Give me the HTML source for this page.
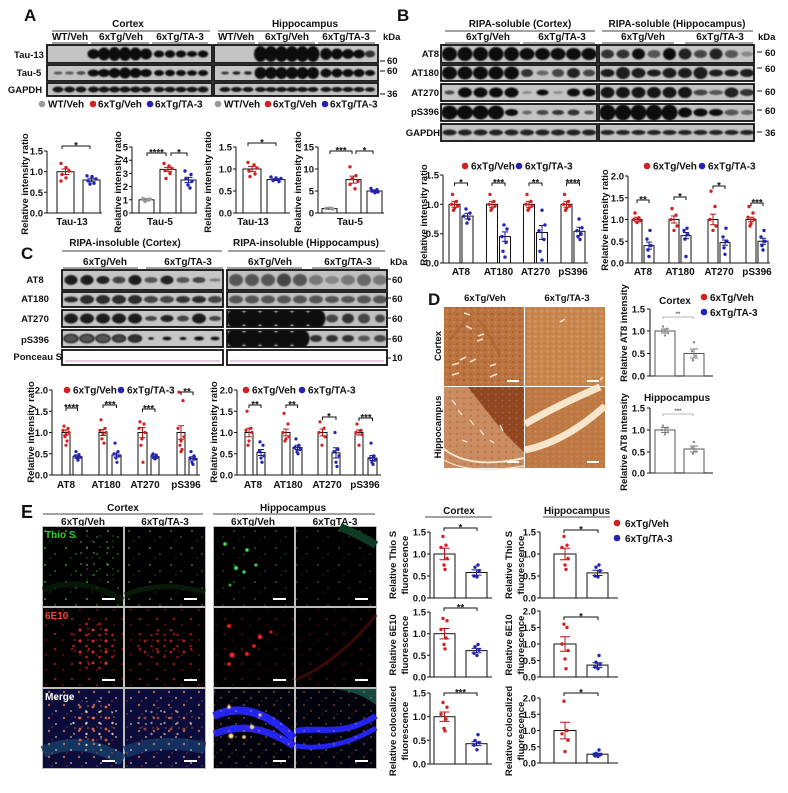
<!DOCTYPE html>
<html><head><meta charset="utf-8">
<style>
body{margin:0;background:#fff}
svg text{font-family:"Liberation Sans",Arial,sans-serif;font-weight:bold;font-size:9.5px;fill:#111}
.m{text-anchor:middle}.e{text-anchor:end}
.ax{fill:none;stroke:#111;stroke-width:1}
.ln{fill:none;stroke:#444;stroke-width:1}
.bar{fill:#fff;stroke:#111;stroke-width:1}
.r circle{fill:#d42020}.b circle{fill:#2424b4}.g circle{fill:#9a9a9a}
.er{stroke:#b01818;fill:none;stroke-width:1}
.eb{stroke:#1a1a8e;fill:none;stroke-width:1}
.eg{stroke:#777;fill:none;stroke-width:1}
.bl{stroke:#111;stroke-width:1.8;fill:none}
.h{font-size:10px}
.L{font-size:17px}
</style></head><body>
<svg width="788" height="788" viewBox="0 0 788 788" xmlns="http://www.w3.org/2000/svg">
<defs>
<filter id="bf" x="-30%" y="-60%" width="160%" height="220%"><feGaussianBlur stdDeviation="0.7"/></filter>
<filter id="gl" x="-50%" y="-50%" width="200%" height="200%"><feGaussianBlur stdDeviation="0.5"/></filter>
<pattern id="pg" width="21" height="17" patternUnits="userSpaceOnUse"><circle cx="3" cy="4" r="0.9" fill="#6d6"/><circle cx="13" cy="10" r="0.8" fill="#4c4"/><circle cx="8" cy="14" r="0.6" fill="#3a3"/></pattern>
<pattern id="pg2" width="13" height="11" patternUnits="userSpaceOnUse"><circle cx="3" cy="3" r="0.9" fill="#7e7"/><circle cx="9" cy="8" r="0.7" fill="#5c5"/></pattern>
<pattern id="pr" width="17" height="15" patternUnits="userSpaceOnUse"><circle cx="4" cy="4" r="1.3" fill="#e22"/><circle cx="12" cy="10" r="1" fill="#b11"/></pattern>
<pattern id="pr2" width="13" height="11" patternUnits="userSpaceOnUse"><circle cx="2" cy="3" r="1.5" fill="#f33"/><circle cx="8.5" cy="8" r="1.3" fill="#d22"/><circle cx="10" cy="2" r="0.9" fill="#c22"/></pattern>
<pattern id="pm" width="15" height="13" patternUnits="userSpaceOnUse"><circle cx="4" cy="3" r="1.2" fill="#f96"/><circle cx="11" cy="9" r="1" fill="#fdb"/><circle cx="7" cy="12" r="0.7" fill="#e53"/></pattern>
<pattern id="pm2" width="13" height="11" patternUnits="userSpaceOnUse"><circle cx="2" cy="3" r="1.4" fill="#f74"/><circle cx="8.5" cy="8" r="1.2" fill="#fec"/><circle cx="10" cy="2" r="0.9" fill="#e53"/></pattern>
<pattern id="pb1" width="7" height="6" patternUnits="userSpaceOnUse"><circle cx="2" cy="2" r="1.2" fill="#9c5527"/><circle cx="5.5" cy="4.5" r="1" fill="#d99a64"/></pattern>
<pattern id="pb2" width="6" height="5" patternUnits="userSpaceOnUse"><circle cx="1.5" cy="1.5" r="1" fill="#e0a978"/><circle cx="4.5" cy="3.5" r="0.9" fill="#b06a38"/></pattern>
</defs>
<rect width="788" height="788" fill="#fff"/>

<!-- ================= PANEL A ================= -->
<text class="L" x="24" y="21">A</text>
<text class="m h" x="128" y="27">Cortex</text>
<path class="ln" d="M52,31H210M218,31H376"/>
<text class="m h" x="305" y="27">Hippocampus</text>
<text class="m h" x="70" y="40">WT/Veh</text>
<text class="m h" x="121" y="40">6xTg/Veh</text>
<text class="m h" x="180" y="40">6xTg/TA-3</text>
<text class="m h" x="236" y="40">WT/Veh</text>
<text class="m h" x="287" y="40">6xTg/Veh</text>
<text class="m h" x="346" y="40">6xTg/TA-3</text>
<path class="ln" d="M52,43H88M91,43H149M152,43H208M217,43H255M258,43H315M318,43H375"/>
<text x="383" y="40">kDa</text>

<text class="m" x="29" y="58">Tau-13</text>
<text class="m" x="29" y="76">Tau-5</text>
<text class="m" x="25" y="93">GAPDH</text>

<svg x="47" y="45" width="165" height="18"><rect width="100%" height="100%" fill="#c4c4c4"/><g filter="url(#bf)" fill="#111">
<ellipse cx="46.5" cy="9" rx="6" ry="5"/><ellipse cx="57" cy="9" rx="6" ry="6.5"/><ellipse cx="67.5" cy="9" rx="6" ry="7"/><ellipse cx="78" cy="9" rx="6" ry="7"/><ellipse cx="88.5" cy="9" rx="6" ry="6.5"/><ellipse cx="99" cy="9" rx="6" ry="5.5"/>
<ellipse cx="112" cy="9" rx="5.2" ry="3.5"/><ellipse cx="123" cy="9" rx="5.2" ry="3.8"/><ellipse cx="134" cy="9" rx="5.2" ry="3.5"/><ellipse cx="145" cy="9" rx="5.2" ry="3"/><ellipse cx="156" cy="9" rx="5.2" ry="3.5"/></g></svg>
<rect class="bl" x="47" y="45" width="165" height="18"/>
<svg x="47" y="65" width="165" height="16"><rect width="100%" height="100%" fill="#c4c4c4"/><g filter="url(#bf)" fill="#111">
<ellipse cx="11" cy="8" rx="4.5" ry="1.5" fill="#555"/><ellipse cx="22.5" cy="8" rx="4.5" ry="1.5" fill="#555"/><ellipse cx="34" cy="8" rx="4.5" ry="1.7" fill="#444"/>
<ellipse cx="46.5" cy="8" rx="5.8" ry="3.5"/><ellipse cx="57" cy="8" rx="5.8" ry="4"/><ellipse cx="67.5" cy="8" rx="5.8" ry="5"/><ellipse cx="78" cy="8" rx="5.8" ry="5.5"/><ellipse cx="88.5" cy="8" rx="5.8" ry="5"/><ellipse cx="99" cy="8" rx="5.8" ry="4"/>
<ellipse cx="112" cy="8" rx="5" ry="3"/><ellipse cx="123" cy="8" rx="5" ry="3.2"/><ellipse cx="134" cy="8" rx="5" ry="3"/><ellipse cx="145" cy="8" rx="5" ry="2.8"/><ellipse cx="156" cy="8" rx="5" ry="3"/></g></svg>
<rect class="bl" x="47" y="65" width="165" height="16"/>
<svg x="47" y="83" width="165" height="13"><rect width="100%" height="100%" fill="#c4c4c4"/><g filter="url(#bf)" fill="#151515">
<ellipse cx="11" cy="6.5" rx="5.5" ry="3"/><ellipse cx="22.5" cy="6.5" rx="5.5" ry="3"/><ellipse cx="34" cy="6.5" rx="5.5" ry="3"/><ellipse cx="46.5" cy="6.5" rx="5.5" ry="3"/><ellipse cx="57" cy="6.5" rx="5.5" ry="3"/><ellipse cx="67.5" cy="6.5" rx="5.5" ry="3"/><ellipse cx="78" cy="6.5" rx="5.5" ry="3"/><ellipse cx="88.5" cy="6.5" rx="5.5" ry="3"/><ellipse cx="99" cy="6.5" rx="5.5" ry="3"/><ellipse cx="112" cy="6.5" rx="5.5" ry="2.8"/><ellipse cx="123" cy="6.5" rx="5.5" ry="2.8"/><ellipse cx="134" cy="6.5" rx="5.5" ry="2.8"/><ellipse cx="145" cy="6.5" rx="5.5" ry="2.8"/><ellipse cx="156" cy="6.5" rx="5.5" ry="3"/></g></svg>
<rect class="bl" x="47" y="83" width="165" height="13"/>

<svg x="214" y="45" width="164" height="18"><rect width="100%" height="100%" fill="#c4c4c4"/><g filter="url(#bf)" fill="#0e0e0e">
<ellipse cx="46.5" cy="9" rx="6.5" ry="8"/><ellipse cx="57" cy="9" rx="6.5" ry="8"/><ellipse cx="67.5" cy="9" rx="6.5" ry="8"/><ellipse cx="78" cy="9" rx="6.5" ry="8"/><ellipse cx="88.5" cy="9" rx="6.5" ry="8"/><ellipse cx="99" cy="9" rx="6.5" ry="8"/>
<ellipse cx="112" cy="9" rx="5.8" ry="6"/><ellipse cx="123" cy="9" rx="5.8" ry="5.5"/><ellipse cx="134" cy="9" rx="5.8" ry="5"/><ellipse cx="145" cy="9" rx="5.8" ry="4.5"/><ellipse cx="156" cy="9" rx="5" ry="3.5" fill="#333"/></g></svg>
<rect class="bl" x="214" y="45" width="164" height="18"/>
<svg x="214" y="65" width="164" height="16"><rect width="100%" height="100%" fill="#c4c4c4"/><g filter="url(#bf)" fill="#0e0e0e">
<ellipse cx="11" cy="8" rx="4" ry="1.5" fill="#333"/><ellipse cx="22.5" cy="8" rx="4" ry="1.7" fill="#222"/><ellipse cx="34" cy="8" rx="4" ry="1.7" fill="#222"/>
<ellipse cx="46.5" cy="8" rx="6" ry="6"/><ellipse cx="57" cy="8" rx="6" ry="6"/><ellipse cx="67.5" cy="8" rx="6" ry="6"/><ellipse cx="78" cy="8" rx="6" ry="6"/><ellipse cx="88.5" cy="8" rx="6" ry="6"/><ellipse cx="99" cy="8" rx="6" ry="6"/>
<ellipse cx="112" cy="8" rx="5.5" ry="4.5"/><ellipse cx="123" cy="8" rx="5.5" ry="4.5"/><ellipse cx="134" cy="8" rx="5.5" ry="4"/><ellipse cx="145" cy="8" rx="5.5" ry="4"/><ellipse cx="156" cy="8" rx="5" ry="3"/></g></svg>
<rect class="bl" x="214" y="65" width="164" height="16"/>
<svg x="214" y="83" width="164" height="13"><rect width="100%" height="100%" fill="#c4c4c4"/><g filter="url(#bf)" fill="#151515">
<ellipse cx="11" cy="6.5" rx="5.5" ry="2.5"/><ellipse cx="22.5" cy="6.5" rx="5.5" ry="2.5"/><ellipse cx="34" cy="6.5" rx="5.5" ry="2.5"/><ellipse cx="46.5" cy="6.5" rx="5.5" ry="2.5"/><ellipse cx="57" cy="6.5" rx="5.5" ry="2.5"/><ellipse cx="67.5" cy="6.5" rx="5.5" ry="2.5"/><ellipse cx="78" cy="6.5" rx="5.5" ry="2.5"/><ellipse cx="88.5" cy="6.5" rx="5.5" ry="2.5"/><ellipse cx="99" cy="6.5" rx="5.5" ry="2.5"/><ellipse cx="112" cy="6.5" rx="5.5" ry="2.5"/><ellipse cx="123" cy="6.5" rx="5.5" ry="2.5"/><ellipse cx="134" cy="6.5" rx="5.5" ry="2.5"/><ellipse cx="145" cy="6.5" rx="5.5" ry="2.5"/><ellipse cx="156" cy="6.5" rx="5" ry="2.3"/></g></svg>
<rect class="bl" x="214" y="83" width="164" height="13"/>
<path class="ax" d="M380,61h5M380,71h5M380,94h5"/>
<text x="387" y="64">60</text><text x="387" y="74">60</text><text x="387" y="97">36</text>

<g class="g"><circle cx="42" cy="104" r="3.3"/><circle cx="218" cy="104" r="3.3"/></g>
<g class="r"><circle cx="93" cy="104" r="3.3"/><circle cx="268" cy="104" r="3.3"/></g>
<g class="b"><circle cx="150" cy="104" r="3.3"/><circle cx="325" cy="104" r="3.3"/></g>
<text class="h" x="48" y="107.5">WT/Veh</text><text class="h" x="98" y="107.5">6xTg/Veh</text><text class="h" x="155" y="107.5">6xTg/TA-3</text>
<text class="h" x="224" y="107.5">WT/Veh</text><text class="h" x="273" y="107.5">6xTg/Veh</text><text class="h" x="330" y="107.5">6xTg/TA-3</text>

<!-- A chart1 -->
<path class="ax" d="M47,151V213H102M44,151h3M44,171.7h3M44,192.3h3M44,213h3"/>
<text class="e" x="43" y="154.5">1.5</text><text class="e" x="43" y="175">1.0</text><text class="e" x="43" y="195.8">0.5</text><text class="e" x="43" y="216.5">0.0</text>
<rect class="bar" x="57" y="171.7" width="17" height="41.3"/><rect class="bar" x="83" y="180" width="17" height="33"/>
<path class="er" d="M61.5,169H69.5M65.5,169V174.5M61.5,174.5H69.5"/><path class="eb" d="M87.5,178.3H95.5M91.5,178.3V181.7M87.5,181.7H95.5"/>
<g class="r"><circle cx="61" cy="163.4" r="1.7"/><circle cx="66" cy="167.6" r="1.7"/><circle cx="69" cy="171" r="1.7"/><circle cx="62" cy="174.5" r="1.7"/><circle cx="66" cy="177.9" r="1.7"/><circle cx="61" cy="181" r="1.7"/></g>
<g class="b"><circle cx="87" cy="175.8" r="1.7"/><circle cx="92" cy="176.6" r="1.7"/><circle cx="96" cy="178.9" r="1.7"/><circle cx="88" cy="180.8" r="1.7"/><circle cx="94" cy="183.3" r="1.7"/><circle cx="90" cy="184.1" r="1.7"/></g>
<path class="ax" d="M62,149V146H90V149"/><text class="m" x="76" y="148.5">*</text>
<text class="m h" x="72" y="225">Tau-13</text>
<text class="m" transform="translate(28,184) rotate(-90)">Relative intensity ratio</text>

<!-- A chart2 -->
<path class="ax" d="M132,147V213H197M129,147h3M129,160.2h3M129,173.4h3M129,186.6h3M129,199.8h3M129,213h3"/>
<text class="e" x="128" y="150.5">5</text><text class="e" x="128" y="163.7">4</text><text class="e" x="128" y="176.9">3</text><text class="e" x="128" y="190.1">2</text><text class="e" x="128" y="203.3">1</text><text class="e" x="128" y="216.5">0</text>
<rect class="bar" x="139" y="199.8" width="15" height="13.2"/><rect class="bar" x="160" y="169.4" width="16" height="43.6"/><rect class="bar" x="181" y="180" width="15" height="33"/>
<path class="eg" d="M143,198.5H150M146.5,198.5V201M143,201H150"/>
<path class="er" d="M164,167.4H172M168,167.4V171.4M164,171.4H172"/>
<path class="eb" d="M184.5,177.4H192.5M188.5,177.4V182.6M184.5,182.6H192.5"/>
<g class="g"><circle cx="143" cy="198.5" r="1.7"/><circle cx="147" cy="200" r="1.7"/><circle cx="150" cy="199" r="1.7"/><circle cx="145" cy="201.5" r="1.7"/></g>
<g class="r"><circle cx="164" cy="163.5" r="1.7"/><circle cx="169" cy="166" r="1.7"/><circle cx="172" cy="168.5" r="1.7"/><circle cx="165" cy="170.5" r="1.7"/><circle cx="170" cy="173.5" r="1.7"/><circle cx="166" cy="178.5" r="1.7"/></g>
<g class="b"><circle cx="185" cy="171" r="1.7"/><circle cx="191" cy="174.5" r="1.7"/><circle cx="186" cy="178.5" r="1.7"/><circle cx="192" cy="181" r="1.7"/><circle cx="188" cy="185" r="1.7"/><circle cx="190" cy="188" r="1.7"/></g>
<path class="ax" d="M147,156V153H166V156M171,156V153H187V156"/><text class="m" x="156.5" y="155.5">****</text><text class="m" x="179" y="155.5">*</text>
<text class="m h" x="160" y="225">Tau-5</text>
<text class="m" transform="translate(121,182) rotate(-90)">Relative intensity ratio</text>

<!-- A chart3 -->
<path class="ax" d="M236,147V213H290M233,147h3M233,169h3M233,191h3M233,213h3"/>
<text class="e" x="232" y="150.5">1.5</text><text class="e" x="232" y="172.5">1.0</text><text class="e" x="232" y="194.5">0.5</text><text class="e" x="232" y="216.5">0.0</text>
<rect class="bar" x="243" y="169" width="18" height="44"/><rect class="bar" x="267" y="179.6" width="18" height="33.4"/>
<path class="er" d="M248,166.4H256M252,166.4V171.6M248,171.6H256"/><path class="eb" d="M272,178.7H280M276,178.7V180.5M272,180.5H280"/>
<g class="r"><circle cx="248" cy="162.4" r="1.7"/><circle cx="254" cy="165" r="1.7"/><circle cx="257" cy="168" r="1.7"/><circle cx="249" cy="171" r="1.7"/><circle cx="255" cy="174" r="1.7"/><circle cx="250" cy="176.6" r="1.7"/></g>
<g class="b"><circle cx="271" cy="177" r="1.7"/><circle cx="276" cy="178" r="1.7"/><circle cx="281" cy="178.5" r="1.7"/><circle cx="273" cy="180.5" r="1.7"/><circle cx="279" cy="181.5" r="1.7"/></g>
<path class="ax" d="M248,146V143H276V146"/><text class="m" x="262" y="145.5">*</text>
<text class="m h" x="253" y="225">Tau-13</text>
<text class="m" transform="translate(211,182) rotate(-90)">Relative intensity ratio</text>

<!-- A chart4 -->
<path class="ax" d="M318,147V213H384M315,147h3M315,169h3M315,191h3M315,213h3"/>
<text class="e" x="314" y="150.5">15</text><text class="e" x="314" y="172.5">10</text><text class="e" x="314" y="194.5">5</text><text class="e" x="314" y="216.5">0</text>
<rect class="bar" x="322" y="208.6" width="15" height="4.4"/><rect class="bar" x="346" y="179.6" width="15" height="33.4"/><rect class="bar" x="367" y="191" width="15" height="22"/>
<path class="eg" d="M326,207.5H333M329.5,207.5V209.5M326,209.5H333"/>
<path class="er" d="M349.5,176.1H357.5M353.5,176.1V183.1M349.5,183.1H357.5"/>
<path class="eb" d="M370.5,189.9H378.5M374.5,189.9V192.1M370.5,192.1H378.5"/>
<g class="g"><circle cx="326" cy="208.5" r="1.7"/><circle cx="330" cy="208" r="1.7"/><circle cx="333" cy="209" r="1.7"/></g>
<g class="r"><circle cx="350" cy="166.8" r="1.7"/><circle cx="356" cy="175.6" r="1.7"/><circle cx="352" cy="178.7" r="1.7"/><circle cx="358" cy="181.3" r="1.7"/><circle cx="350" cy="184.4" r="1.7"/><circle cx="355" cy="188.8" r="1.7"/></g>
<g class="b"><circle cx="371" cy="188.4" r="1.7"/><circle cx="377" cy="189.7" r="1.7"/><circle cx="372" cy="191" r="1.7"/><circle cx="378" cy="191.9" r="1.7"/><circle cx="375" cy="192.8" r="1.7"/></g>
<path class="ax" d="M330,154V151H352V154M356,154V151H373V154"/><text class="m" x="341" y="153.5">***</text><text class="m" x="364.5" y="153.5">*</text>
<text class="m h" x="350" y="225">Tau-5</text>
<text class="m" transform="translate(301,182) rotate(-90)">Relative intensity ratio</text>

<!-- ================= PANEL B ================= -->
<text class="L" x="397" y="21">B</text>
<text class="m h" x="520" y="27">RIPA-soluble (Cortex)</text>
<text class="m h" x="677" y="27">RIPA-soluble (Hippocampus)</text>
<path class="ln" d="M445,31H595M602,31H753"/>
<text class="m h" x="488" y="40">6xTg/Veh</text><text class="m h" x="562" y="40">6xTg/TA-3</text>
<text class="m h" x="643" y="40">6xTg/Veh</text><text class="m h" x="720" y="40">6xTg/TA-3</text>
<path class="ln" d="M445,43H520M523,43H595M602,43H674M685,43H753"/>
<text x="758" y="40">kDa</text>
<text class="e" x="439" y="57">AT8</text><text class="e" x="439" y="76">AT180</text><text class="e" x="439" y="96">AT270</text><text class="e" x="439" y="115">pS396</text><text class="e" x="440" y="136">GAPDH</text>

<svg x="441" y="45" width="156" height="18"><rect width="100%" height="100%" fill="#c4c4c4"/><g filter="url(#bf)" fill="#111">
<ellipse cx="8.5" cy="9" rx="7.5" ry="7"/><ellipse cx="24" cy="9" rx="7.5" ry="7"/><ellipse cx="39.5" cy="9" rx="7.5" ry="7"/><ellipse cx="55" cy="9" rx="7.5" ry="7"/><ellipse cx="70.5" cy="9" rx="7.5" ry="7"/><ellipse cx="86" cy="9" rx="7.5" ry="6"/><ellipse cx="101.5" cy="9" rx="7.5" ry="6"/><ellipse cx="117" cy="9" rx="7.5" ry="6"/><ellipse cx="132.5" cy="9" rx="7.5" ry="6"/><ellipse cx="148" cy="9" rx="7.5" ry="6"/></g></svg>
<rect class="bl" x="441" y="45" width="156" height="18"/>
<svg x="441" y="65" width="156" height="16"><rect width="100%" height="100%" fill="#c4c4c4"/><g filter="url(#bf)" fill="#111">
<ellipse cx="8.5" cy="8" rx="7.5" ry="6.5"/><ellipse cx="24" cy="8" rx="7.5" ry="6.5"/><ellipse cx="39.5" cy="8" rx="7.5" ry="6.5"/><ellipse cx="55" cy="8" rx="7.5" ry="6.5"/><ellipse cx="70.5" cy="8" rx="7.5" ry="6.5"/><ellipse cx="86" cy="8" rx="6" ry="4" fill="#333"/><ellipse cx="101.5" cy="8" rx="6" ry="2.5" fill="#666"/><ellipse cx="117" cy="8" rx="6" ry="4" fill="#444"/><ellipse cx="132.5" cy="8" rx="6.5" ry="5" fill="#222"/><ellipse cx="148" cy="8" rx="6" ry="3.5" fill="#444"/></g></svg>
<rect class="bl" x="441" y="65" width="156" height="16"/>
<svg x="441" y="84" width="156" height="17"><rect width="100%" height="100%" fill="#c4c4c4"/><g filter="url(#bf)" fill="#111">
<ellipse cx="8.5" cy="8.5" rx="5" ry="2" fill="#444"/><ellipse cx="24" cy="8.5" rx="7" ry="5"/><ellipse cx="39.5" cy="8.5" rx="7" ry="5"/><ellipse cx="55" cy="8.5" rx="7" ry="5"/><ellipse cx="70.5" cy="8.5" rx="7" ry="5"/><ellipse cx="86" cy="8.5" rx="5" ry="1.5" fill="#888"/><ellipse cx="101.5" cy="8.5" rx="6" ry="3"/><ellipse cx="117" cy="8.5" rx="5" ry="1.5" fill="#888"/><ellipse cx="132.5" cy="8.5" rx="6.5" ry="4"/><ellipse cx="148" cy="8.5" rx="6.5" ry="4"/></g></svg>
<rect class="bl" x="441" y="84" width="156" height="17"/>
<svg x="441" y="104" width="156" height="17"><rect width="100%" height="100%" fill="#c4c4c4"/><g filter="url(#bf)" fill="#111">
<ellipse cx="8.5" cy="8.5" rx="8" ry="7"/><ellipse cx="24" cy="8.5" rx="8" ry="7"/><ellipse cx="39.5" cy="8.5" rx="8" ry="7"/><ellipse cx="55" cy="8.5" rx="8" ry="7"/><ellipse cx="70.5" cy="8.5" rx="6.5" ry="3.5"/><ellipse cx="86" cy="8.5" rx="5" ry="2" fill="#666"/><ellipse cx="101.5" cy="8.5" rx="6" ry="2.5" fill="#444"/><ellipse cx="117" cy="8.5" rx="6" ry="2.5" fill="#333"/><ellipse cx="132.5" cy="8.5" rx="6" ry="3" fill="#333"/><ellipse cx="148" cy="8.5" rx="5" ry="2" fill="#555"/></g></svg>
<rect class="bl" x="441" y="104" width="156" height="17"/>
<svg x="441" y="124" width="156" height="17"><rect width="100%" height="100%" fill="#c4c4c4"/><g filter="url(#bf)" fill="#222">
<ellipse cx="8.5" cy="8.5" rx="7" ry="3"/><ellipse cx="24" cy="8.5" rx="7" ry="3"/><ellipse cx="39.5" cy="8.5" rx="7" ry="3"/><ellipse cx="55" cy="8.5" rx="7" ry="3"/><ellipse cx="70.5" cy="8.5" rx="7" ry="3"/><ellipse cx="86" cy="8.5" rx="7" ry="3"/><ellipse cx="101.5" cy="8.5" rx="7" ry="3"/><ellipse cx="117" cy="8.5" rx="7" ry="3"/><ellipse cx="132.5" cy="8.5" rx="7" ry="3"/><ellipse cx="148" cy="8.5" rx="7" ry="3"/></g></svg>
<rect class="bl" x="441" y="124" width="156" height="17"/>

<svg x="599" y="45" width="155" height="18"><rect width="100%" height="100%" fill="#c4c4c4"/><g filter="url(#bf)">
<ellipse cx="8.5" cy="9" rx="6.5" ry="4.5" fill="#333"/><ellipse cx="24" cy="9" rx="6.5" ry="4.5" fill="#333"/><ellipse cx="39.5" cy="9" rx="6.5" ry="5.5" fill="#111"/><ellipse cx="55" cy="9" rx="6.5" ry="4" fill="#555"/><ellipse cx="70.5" cy="9" rx="6.5" ry="6" fill="#111"/><ellipse cx="86" cy="9" rx="6.5" ry="5.5" fill="#222"/><ellipse cx="101.5" cy="9" rx="6.5" ry="4" fill="#444"/><ellipse cx="117" cy="9" rx="6.5" ry="5.5" fill="#222"/><ellipse cx="132.5" cy="9" rx="6.5" ry="4" fill="#555"/><ellipse cx="148" cy="9" rx="6" ry="2.5" fill="#888"/></g></svg>
<rect class="bl" x="599" y="45" width="155" height="18"/>
<svg x="599" y="65" width="155" height="16"><rect width="100%" height="100%" fill="#c4c4c4"/><g filter="url(#bf)" fill="#1a1a1a">
<ellipse cx="8.5" cy="8" rx="7" ry="4"/><ellipse cx="24" cy="8" rx="7" ry="6"/><ellipse cx="39.5" cy="8" rx="7" ry="5"/><ellipse cx="55" cy="8" rx="7" ry="3.5"/><ellipse cx="70.5" cy="8" rx="7" ry="5"/><ellipse cx="86" cy="8" rx="7" ry="5"/><ellipse cx="101.5" cy="8" rx="7" ry="6"/><ellipse cx="117" cy="8" rx="7" ry="3.5"/><ellipse cx="132.5" cy="8" rx="7" ry="3.5"/><ellipse cx="148" cy="8" rx="7" ry="4"/></g></svg>
<rect class="bl" x="599" y="65" width="155" height="16"/>
<svg x="599" y="84" width="155" height="17"><rect width="100%" height="100%" fill="#c4c4c4"/><g filter="url(#bf)" fill="#151515">
<ellipse cx="8.5" cy="8.5" rx="7" ry="5.5"/><ellipse cx="24" cy="8.5" rx="7" ry="5.5"/><ellipse cx="39.5" cy="8.5" rx="7" ry="5.5"/><ellipse cx="55" cy="8.5" rx="7" ry="5.5"/><ellipse cx="70.5" cy="8.5" rx="7" ry="5.5"/><ellipse cx="86" cy="8.5" rx="7" ry="5.5"/><ellipse cx="101.5" cy="8.5" rx="7" ry="3" fill="#444"/><ellipse cx="117" cy="8.5" rx="7" ry="2.5" fill="#555"/><ellipse cx="132.5" cy="8.5" rx="7" ry="5" fill="#222"/><ellipse cx="148" cy="8.5" rx="7" ry="3.5" fill="#333"/></g></svg>
<rect class="bl" x="599" y="84" width="155" height="17"/>
<svg x="599" y="104" width="155" height="17"><rect width="100%" height="100%" fill="#c4c4c4"/><g filter="url(#bf)" fill="#111">
<ellipse cx="8.5" cy="8.5" rx="8" ry="8"/><ellipse cx="24" cy="8.5" rx="8" ry="8"/><ellipse cx="39.5" cy="8.5" rx="8" ry="8"/><ellipse cx="55" cy="8.5" rx="8" ry="8"/><ellipse cx="70.5" cy="8.5" rx="8" ry="8"/><ellipse cx="86" cy="8.5" rx="7" ry="5"/><ellipse cx="101.5" cy="8.5" rx="7" ry="4"/><ellipse cx="117" cy="8.5" rx="7" ry="3.5"/><ellipse cx="132.5" cy="8.5" rx="7" ry="3" fill="#555"/><ellipse cx="148" cy="8.5" rx="6" ry="2.5" fill="#666"/></g></svg>
<rect class="bl" x="599" y="104" width="155" height="17"/>
<svg x="599" y="124" width="155" height="17"><rect width="100%" height="100%" fill="#c4c4c4"/><g filter="url(#bf)" fill="#222">
<ellipse cx="8.5" cy="8.5" rx="7" ry="2.5"/><ellipse cx="24" cy="8.5" rx="7" ry="2.5"/><ellipse cx="39.5" cy="8.5" rx="7" ry="2.5"/><ellipse cx="55" cy="8.5" rx="7" ry="2.5"/><ellipse cx="70.5" cy="8.5" rx="7" ry="2.5"/><ellipse cx="86" cy="8.5" rx="7" ry="2.5"/><ellipse cx="101.5" cy="8.5" rx="7" ry="2.5"/><ellipse cx="117" cy="8.5" rx="7" ry="2.5"/><ellipse cx="132.5" cy="8.5" rx="7" ry="2.5"/><ellipse cx="148" cy="8.5" rx="7" ry="2.5"/></g></svg>
<rect class="bl" x="599" y="124" width="155" height="17"/>
<path class="ax" d="M757,52h5M757,68h5M757,91h5M757,110h5M757,132h5"/>
<text x="765" y="56">60</text><text x="765" y="72">60</text><text x="765" y="95">60</text><text x="765" y="114">60</text><text x="765" y="136">36</text>

<!-- B left chart -->
<g class="r"><circle cx="465" cy="166" r="3.3"/><circle cx="647" cy="166" r="3.3"/></g>
<g class="b"><circle cx="519" cy="166" r="3.3"/><circle cx="702" cy="166" r="3.3"/></g>
<text class="h" x="471" y="169.5">6xTg/Veh</text><text class="h" x="525" y="169.5">6xTg/TA-3</text>
<text class="h" x="653" y="169.5">6xTg/Veh</text><text class="h" x="708" y="169.5">6xTg/TA-3</text>
<path class="ax" d="M443,175V263H588M440,175h3M440,204.3h3M440,233.7h3M440,263h3"/>
<text class="e" x="439" y="178.5">1.5</text><text class="e" x="439" y="207.8">1.0</text><text class="e" x="439" y="237.2">0.5</text><text class="e" x="439" y="266.5">0.0</text>
<rect class="bar" x="449" y="204.3" width="11" height="58.7"/><rect class="bar" x="486.5" y="204.3" width="11" height="58.7"/><rect class="bar" x="523.5" y="204.3" width="11" height="58.7"/><rect class="bar" x="561" y="204.3" width="11" height="58.7"/>
<rect class="bar" x="462" y="216.1" width="11" height="46.9"/><rect class="bar" x="499.5" y="236.6" width="11" height="26.4"/><rect class="bar" x="536.5" y="232.5" width="11" height="30.5"/><rect class="bar" x="574" y="231.3" width="11" height="31.7"/>
<path class="er" d="M451.5,201.4h6M454.5,201.4V207.2M451.5,207.2h6M489,201.4h6M492,201.4V207.2M489,207.2h6M526,201.4h6M529,201.4V207.2M526,207.2h6M563.5,201.4h6M566.5,201.4V207.2M563.5,207.2h6"/>
<path class="eb" d="M464.5,213.2h6M467.5,213.2V219M464.5,219h6M502,231.9h6M505,231.9V241.3M502,241.3h6M539,225.5h6M542,225.5V239.5M539,239.5h6M576.5,227.2h6M579.5,227.2V235.4M576.5,235.4h6"/>
<g class="r">
<circle cx="452.5" cy="194.4" r="1.7"/><circle cx="456.5" cy="201.4" r="1.7"/><circle cx="451.5" cy="204.3" r="1.7"/><circle cx="457.5" cy="206.1" r="1.7"/><circle cx="454.5" cy="208.4" r="1.7"/><circle cx="453.5" cy="210.2" r="1.7"/>
<circle cx="490" cy="194.4" r="1.7"/><circle cx="494" cy="201.4" r="1.7"/><circle cx="489" cy="204.3" r="1.7"/><circle cx="495" cy="206.1" r="1.7"/><circle cx="492" cy="208.4" r="1.7"/><circle cx="491" cy="210.2" r="1.7"/>
<circle cx="527" cy="194.4" r="1.7"/><circle cx="531" cy="201.4" r="1.7"/><circle cx="526" cy="204.3" r="1.7"/><circle cx="532" cy="206.1" r="1.7"/><circle cx="529" cy="208.4" r="1.7"/><circle cx="528" cy="210.2" r="1.7"/>
<circle cx="564.5" cy="194.4" r="1.7"/><circle cx="568.5" cy="201.4" r="1.7"/><circle cx="563.5" cy="204.3" r="1.7"/><circle cx="569.5" cy="206.1" r="1.7"/><circle cx="566.5" cy="208.4" r="1.7"/><circle cx="565.5" cy="210.2" r="1.7"/></g>
<g class="b">
<circle cx="466" cy="209" r="1.7"/><circle cx="470" cy="213.1" r="1.7"/><circle cx="464" cy="216.1" r="1.7"/><circle cx="469" cy="219" r="1.7"/><circle cx="467" cy="223.1" r="1.7"/>
<circle cx="504" cy="224.9" r="1.7"/><circle cx="507" cy="229" r="1.7"/><circle cx="502" cy="236.6" r="1.7"/><circle cx="506" cy="242.5" r="1.7"/><circle cx="503" cy="251.3" r="1.7"/><circle cx="505" cy="257.1" r="1.7"/>
<circle cx="542" cy="210.2" r="1.7"/><circle cx="545" cy="224.9" r="1.7"/><circle cx="539" cy="230.7" r="1.7"/><circle cx="544" cy="239.5" r="1.7"/><circle cx="540" cy="251.3" r="1.7"/><circle cx="542" cy="260.1" r="1.7"/>
<circle cx="579" cy="219" r="1.7"/><circle cx="582" cy="227.8" r="1.7"/><circle cx="577" cy="230.7" r="1.7"/><circle cx="581" cy="233.7" r="1.7"/><circle cx="578" cy="236.6" r="1.7"/><circle cx="580" cy="239.5" r="1.7"/></g>
<path class="ax" d="M454.5,186V183H467.5V186M492,186V183H505V186M529,186V183H542V186M566.5,186V183H579.5V186"/>
<text class="m" x="461" y="185.5">*</text><text class="m" x="498.5" y="185.5">***</text><text class="m" x="535.5" y="185.5">**</text><text class="m" x="573" y="185.5">****</text>
<text class="m h" x="461" y="275">AT8</text><text class="m h" x="498.5" y="275">AT180</text><text class="m h" x="535.5" y="275">AT270</text><text class="m h" x="573" y="275">pS396</text>
<text class="m" transform="translate(427,215) rotate(-90)">Relative intensity ratio</text>

<!-- B right chart -->
<path class="ax" d="M628,176V263H770M625,176h3M625,197.75h3M625,219.5h3M625,241.25h3M625,263h3"/>
<text class="e" x="624" y="179.5">2.0</text><text class="e" x="624" y="201.25">1.5</text><text class="e" x="624" y="223">1.0</text><text class="e" x="624" y="244.75">0.5</text><text class="e" x="624" y="266.5">0.0</text>
<rect class="bar" x="632" y="219.5" width="10" height="43.5"/><rect class="bar" x="669" y="219.5" width="10" height="43.5"/><rect class="bar" x="708" y="219.5" width="10" height="43.5"/><rect class="bar" x="746" y="219.5" width="10" height="43.5"/>
<rect class="bar" x="644" y="245.6" width="10" height="17.4"/><rect class="bar" x="681" y="235.6" width="10" height="27.4"/><rect class="bar" x="720" y="242.6" width="10" height="20.4"/><rect class="bar" x="758" y="241.25" width="10" height="21.75"/>
<path class="er" d="M634,217.3h6M637,217.3V221.7M634,221.7h6M671,216h6M674,216V223M671,223h6M710,214.3h6M713,214.3V224.7M710,224.7h6M748,217.3h6M751,217.3V221.7M748,221.7h6"/>
<path class="eb" d="M646,242.1h6M649,242.1V249.1M646,249.1h6M683,232.5h6M686,232.5V238.6M683,238.6h6M722,240h6M725,240V245.2M722,245.2h6M760,238.2h6M763,238.2V244.3M760,244.3h6"/>
<g class="r">
<circle cx="635" cy="213" r="1.7"/><circle cx="639" cy="217.8" r="1.7"/><circle cx="634" cy="219.5" r="1.7"/><circle cx="640" cy="220.8" r="1.7"/><circle cx="637" cy="222.5" r="1.7"/>
<circle cx="672" cy="208.6" r="1.7"/><circle cx="676" cy="215.2" r="1.7"/><circle cx="671" cy="219.5" r="1.7"/><circle cx="677" cy="226" r="1.7"/><circle cx="674" cy="230.4" r="1.7"/>
<circle cx="711" cy="191.2" r="1.7"/><circle cx="715" cy="206.5" r="1.7"/><circle cx="710" cy="219.5" r="1.7"/><circle cx="716" cy="226" r="1.7"/><circle cx="713" cy="230.4" r="1.7"/>
<circle cx="749" cy="206.5" r="1.7"/><circle cx="753" cy="213" r="1.7"/><circle cx="748" cy="217.3" r="1.7"/><circle cx="754" cy="219.5" r="1.7"/><circle cx="751" cy="223.9" r="1.7"/><circle cx="750" cy="226" r="1.7"/></g>
<g class="b">
<circle cx="650" cy="230.4" r="1.7"/><circle cx="647" cy="239.1" r="1.7"/><circle cx="651" cy="245.6" r="1.7"/><circle cx="648" cy="250" r="1.7"/><circle cx="649" cy="256.5" r="1.7"/>
<circle cx="687" cy="228.2" r="1.7"/><circle cx="684" cy="230.4" r="1.7"/><circle cx="688" cy="234.7" r="1.7"/><circle cx="685" cy="239.1" r="1.7"/><circle cx="686" cy="256.5" r="1.7"/>
<circle cx="726" cy="228.2" r="1.7"/><circle cx="723" cy="236.9" r="1.7"/><circle cx="727" cy="241.25" r="1.7"/><circle cx="724" cy="247.8" r="1.7"/><circle cx="725" cy="254.3" r="1.7"/>
<circle cx="764" cy="230.4" r="1.7"/><circle cx="761" cy="236.9" r="1.7"/><circle cx="765" cy="241.25" r="1.7"/><circle cx="762" cy="245.6" r="1.7"/><circle cx="763" cy="250" r="1.7"/></g>
<path class="ax" d="M637,203V200H649V203M674,200V197H686V200M713,189V186H725V189M751,206V203H763V206"/>
<text class="m" x="643" y="202.5">**</text><text class="m" x="680" y="199.5">*</text><text class="m" x="719" y="188.5">*</text><text class="m" x="757" y="205.5">***</text>
<text class="m h" x="643" y="275">AT8</text><text class="m h" x="680" y="275">AT180</text><text class="m h" x="719" y="275">AT270</text><text class="m h" x="757" y="275">pS396</text>
<text class="m" transform="translate(608,220) rotate(-90)">Relative intensity ratio</text>

<!-- ================= PANEL C ================= -->
<text class="L" x="21" y="259">C</text>
<text class="m h" x="125" y="246">RIPA-insoluble (Cortex)</text>
<text class="m h" x="306" y="246">RIPA-insoluble (Hippocampus)</text>
<path class="ln" d="M62,251H222M228,251H385"/>
<text class="m h" x="105" y="265">6xTg/Veh</text><text class="m h" x="188" y="265">6xTg/TA-3</text>
<text class="m h" x="270" y="265">6xTg/Veh</text><text class="m h" x="348" y="265">6xTg/TA-3</text>
<path class="ln" d="M63,268H138M146,268H223M227,268H302M312,268H380"/>
<text x="390" y="265">kDa</text>
<text class="m" x="35" y="283">AT8</text><text class="m" x="35" y="302">AT180</text><text class="m" x="35" y="322">AT270</text><text class="m" x="35" y="343">pS396</text><text class="e" x="62" y="360">Ponceau S</text>

<svg x="62" y="270" width="161" height="20"><rect width="100%" height="100%" fill="#c6c6c6"/><g filter="url(#bf)">
<ellipse cx="9" cy="10" rx="6.5" ry="5" fill="#1a1a1a"/><ellipse cx="25" cy="10" rx="6.5" ry="5" fill="#1a1a1a"/><ellipse cx="41" cy="10" rx="6.5" ry="4" fill="#222"/><ellipse cx="57" cy="10" rx="6.5" ry="3.5" fill="#444"/><ellipse cx="73" cy="10" rx="6.5" ry="5" fill="#1a1a1a"/><ellipse cx="89" cy="10" rx="6.5" ry="3" fill="#555"/><ellipse cx="105" cy="10" rx="6.5" ry="4.5" fill="#222"/><ellipse cx="121" cy="10" rx="6.5" ry="3" fill="#555"/><ellipse cx="137" cy="10" rx="6.5" ry="3" fill="#444"/><ellipse cx="153" cy="10" rx="6" ry="1.5" fill="#777"/></g></svg>
<rect class="bl" x="62" y="270" width="161" height="20"/>
<svg x="62" y="292" width="161" height="15"><rect width="100%" height="100%" fill="#c6c6c6"/><g filter="url(#bf)" fill="#2a2a2a">
<ellipse cx="9" cy="7.5" rx="7" ry="3"/><ellipse cx="25" cy="7.5" rx="7" ry="4.5"/><ellipse cx="41" cy="7.5" rx="7" ry="4.5"/><ellipse cx="57" cy="7.5" rx="7" ry="4.5"/><ellipse cx="73" cy="7.5" rx="7" ry="4.5"/><ellipse cx="89" cy="7.5" rx="7" ry="3.5" fill="#444"/><ellipse cx="105" cy="7.5" rx="7" ry="3.5" fill="#444"/><ellipse cx="121" cy="7.5" rx="7" ry="3.5" fill="#333"/><ellipse cx="137" cy="7.5" rx="7" ry="3.5"/><ellipse cx="153" cy="7.5" rx="7" ry="3.5" fill="#444"/></g></svg>
<rect class="bl" x="62" y="292" width="161" height="15"/>
<svg x="62" y="310" width="161" height="17"><rect width="100%" height="100%" fill="#c6c6c6"/><g filter="url(#bf)" fill="#1a1a1a">
<ellipse cx="9" cy="8.5" rx="7" ry="5"/><ellipse cx="25" cy="8.5" rx="7" ry="5"/><ellipse cx="41" cy="8.5" rx="7" ry="5"/><ellipse cx="57" cy="8.5" rx="7" ry="5"/><ellipse cx="73" cy="8.5" rx="7" ry="5"/><ellipse cx="89" cy="8.5" rx="6" ry="2.5" fill="#444"/><ellipse cx="105" cy="8.5" rx="6.5" ry="3.5" fill="#222"/><ellipse cx="121" cy="8.5" rx="6" ry="3" fill="#444"/><ellipse cx="137" cy="8.5" rx="7" ry="5"/><ellipse cx="153" cy="8.5" rx="6" ry="2.5" fill="#444"/></g></svg>
<rect class="bl" x="62" y="310" width="161" height="17"/>
<svg x="62" y="330" width="161" height="17"><rect width="100%" height="100%" fill="#c6c6c6"/><g filter="url(#bf)">
<ellipse cx="9" cy="8.5" rx="7" ry="4" fill="#555" stroke="#222" stroke-width="1.5"/><ellipse cx="25" cy="8.5" rx="7" ry="4" fill="#555" stroke="#222" stroke-width="1.5"/><ellipse cx="41" cy="8.5" rx="7" ry="4" fill="#555" stroke="#222" stroke-width="1.5"/><ellipse cx="57" cy="8.5" rx="6.5" ry="3.5" fill="#444" stroke="#222" stroke-width="1.5"/><ellipse cx="73" cy="8.5" rx="6.5" ry="3.5" fill="#333" stroke="#222" stroke-width="1.5"/>
<ellipse cx="89" cy="8.5" rx="3" ry="1.3" fill="#111"/><ellipse cx="105" cy="8.5" rx="4.5" ry="1.8" fill="#111"/><ellipse cx="121" cy="8.5" rx="3.5" ry="1.5" fill="#111"/><ellipse cx="137" cy="8.5" rx="5" ry="2" fill="#111"/><ellipse cx="153" cy="8.5" rx="4.5" ry="1.8" fill="#111"/></g></svg>
<rect class="bl" x="62" y="330" width="161" height="17"/>
<rect x="62" y="350" width="161" height="15" fill="#fff"/><path d="M65,361H220" stroke="#d9a6cc" stroke-width="1.3"/>
<rect class="bl" x="62" y="350" width="161" height="15"/>

<svg x="227" y="270" width="160" height="20"><rect width="100%" height="100%" fill="#c0c0c0"/><g filter="url(#bf)">
<ellipse cx="9" cy="10" rx="7" ry="6" fill="#555"/><ellipse cx="25" cy="10" rx="7" ry="6" fill="#555"/><ellipse cx="41" cy="10" rx="7" ry="6" fill="#555"/><ellipse cx="57" cy="10" rx="7" ry="6.5" fill="#444"/><ellipse cx="73" cy="10" rx="7" ry="6" fill="#555"/><ellipse cx="89" cy="10" rx="7" ry="5" fill="#777"/><ellipse cx="105" cy="10" rx="7" ry="4" fill="#888"/><ellipse cx="121" cy="10" rx="7" ry="5" fill="#777"/><ellipse cx="137" cy="10" rx="7" ry="6" fill="#666"/><ellipse cx="153" cy="10" rx="7" ry="5" fill="#777"/></g></svg>
<rect class="bl" x="227" y="270" width="160" height="20"/>
<svg x="227" y="292" width="160" height="15"><rect width="100%" height="100%" fill="#c0c0c0"/><g filter="url(#bf)" fill="#555">
<ellipse cx="9" cy="7.5" rx="7" ry="4"/><ellipse cx="25" cy="7.5" rx="7" ry="4"/><ellipse cx="41" cy="7.5" rx="7" ry="4"/><ellipse cx="57" cy="7.5" rx="7" ry="4"/><ellipse cx="73" cy="7.5" rx="7" ry="4"/><ellipse cx="89" cy="7.5" rx="7" ry="4"/><ellipse cx="105" cy="7.5" rx="7" ry="3.5"/><ellipse cx="121" cy="7.5" rx="7" ry="3.5"/><ellipse cx="137" cy="7.5" rx="7" ry="4"/><ellipse cx="153" cy="7.5" rx="7" ry="4"/></g></svg>
<rect class="bl" x="227" y="292" width="160" height="15"/>
<svg x="227" y="310" width="160" height="17"><rect width="100%" height="100%" fill="#c0c0c0"/><g filter="url(#bf)" fill="#080808">
<ellipse cx="9" cy="8.5" rx="9.5" ry="10"/><ellipse cx="25" cy="8.5" rx="9.5" ry="10"/><ellipse cx="41" cy="8.5" rx="9.5" ry="10"/><ellipse cx="57" cy="8.5" rx="9.5" ry="10"/><ellipse cx="73" cy="8.5" rx="9.5" ry="10"/><ellipse cx="89" cy="8.5" rx="9.5" ry="10"/><ellipse cx="105" cy="8.5" rx="6" ry="4" fill="#444"/><ellipse cx="121" cy="8.5" rx="6" ry="5" fill="#333"/><ellipse cx="137" cy="8.5" rx="6" ry="5" fill="#444"/><ellipse cx="153" cy="8.5" rx="5" ry="4" fill="#444"/></g></svg>
<rect class="bl" x="227" y="310" width="160" height="17"/>
<svg x="227" y="330" width="160" height="17"><rect width="100%" height="100%" fill="#c0c0c0"/><g filter="url(#bf)" fill="#080808">
<ellipse cx="9" cy="8.5" rx="9.5" ry="10"/><ellipse cx="25" cy="8.5" rx="9.5" ry="10"/><ellipse cx="41" cy="8.5" rx="9.5" ry="10"/><ellipse cx="57" cy="8.5" rx="9.5" ry="10"/><ellipse cx="73" cy="8.5" rx="9.5" ry="10"/><ellipse cx="89" cy="8.5" rx="6" ry="3.5" fill="#333"/><ellipse cx="105" cy="8.5" rx="6" ry="3.5" fill="#333"/><ellipse cx="121" cy="8.5" rx="6" ry="3.5" fill="#333"/><ellipse cx="137" cy="8.5" rx="6" ry="3" fill="#555"/><ellipse cx="153" cy="8.5" rx="6" ry="3.5" fill="#444"/></g></svg>
<rect class="bl" x="227" y="330" width="160" height="17"/>
<rect x="227" y="350" width="160" height="15" fill="#fff"/><path d="M230,361H384" stroke="#d9a6cc" stroke-width="1.3"/>
<rect class="bl" x="227" y="350" width="160" height="15"/>
<path class="ax" d="M387,279h4M387,298h4M387,318h4M387,339h4M387,358h4"/>
<text x="392" y="283">60</text><text x="392" y="302">60</text><text x="392" y="322">60</text><text x="392" y="342">60</text><text x="392" y="361">10</text>

<!-- C left chart -->
<g class="r"><circle cx="67" cy="390" r="3.3"/><circle cx="246" cy="390" r="3.3"/></g>
<g class="b"><circle cx="121" cy="390" r="3.3"/><circle cx="302" cy="390" r="3.3"/></g>
<text class="h" x="73" y="393.5">6xTg/Veh</text><text class="h" x="127" y="393.5">6xTg/TA-3</text>
<text class="h" x="252" y="393.5">6xTg/Veh</text><text class="h" x="308" y="393.5">6xTg/TA-3</text>
<path class="ax" d="M52,390V475H200M49,390h3M49,411.25h3M49,432.5h3M49,453.75h3M49,475h3"/>
<text class="e" x="48" y="393.5">2.0</text><text class="e" x="48" y="414.75">1.5</text><text class="e" x="48" y="436">1.0</text><text class="e" x="48" y="457.25">0.5</text><text class="e" x="48" y="478.5">0.0</text>
<rect class="bar" x="62" y="432.5" width="8" height="42.5"/><rect class="bar" x="99" y="432.5" width="8" height="42.5"/><rect class="bar" x="138" y="432.5" width="9" height="42.5"/><rect class="bar" x="177" y="432.5" width="8" height="42.5"/>
<rect class="bar" x="73" y="456.7" width="9" height="18.3"/><rect class="bar" x="112" y="455" width="9" height="20"/><rect class="bar" x="151" y="456.7" width="8" height="18.3"/><rect class="bar" x="189" y="458.4" width="8" height="16.6"/>
<path class="er" d="M63,430h6M66,430V435M63,435h6M100,429.5h6M103,429.5V435.5M100,435.5h6M139.5,427.4h6M142.5,427.4V437.6M139.5,437.6h6M178,425.7h6M181,425.7V439.3M178,439.3h6"/>
<path class="eb" d="M74.5,455h6M77.5,455V458.4M74.5,458.4h6M113.5,453h6M116.5,453V457M113.5,457h6M152,455h6M155,455V458.4M152,458.4h6M190,456.7h6M193,456.7V460.1M190,460.1h6"/>
<g class="r">
<circle cx="64" cy="426.1" r="1.6"/><circle cx="68" cy="428.3" r="1.6"/><circle cx="63" cy="430.4" r="1.6"/><circle cx="69" cy="432.5" r="1.6"/><circle cx="66" cy="434.6" r="1.6"/><circle cx="65" cy="436.8" r="1.6"/><circle cx="67" cy="441" r="1.6"/><circle cx="66" cy="445.3" r="1.6"/>
<circle cx="101" cy="419.8" r="1.6"/><circle cx="105" cy="428.3" r="1.6"/><circle cx="100" cy="430.4" r="1.6"/><circle cx="106" cy="432.5" r="1.6"/><circle cx="103" cy="434.6" r="1.6"/><circle cx="102" cy="438.9" r="1.6"/><circle cx="104" cy="443.1" r="1.6"/>
<circle cx="140" cy="421.9" r="1.6"/><circle cx="144" cy="424" r="1.6"/><circle cx="139" cy="428.3" r="1.6"/><circle cx="145" cy="432.5" r="1.6"/><circle cx="142" cy="438.9" r="1.6"/><circle cx="141" cy="445.3" r="1.6"/><circle cx="143" cy="462.3" r="1.6"/>
<circle cx="179" cy="392.1" r="1.6"/><circle cx="183" cy="400.6" r="1.6"/><circle cx="178" cy="428.3" r="1.6"/><circle cx="184" cy="436.8" r="1.6"/><circle cx="181" cy="441" r="1.6"/><circle cx="180" cy="445.3" r="1.6"/><circle cx="182" cy="449.5" r="1.6"/><circle cx="181" cy="451.6" r="1.6"/></g>
<g class="b">
<circle cx="76" cy="451.6" r="1.6"/><circle cx="79" cy="454.6" r="1.6"/><circle cx="75" cy="455.9" r="1.6"/><circle cx="80" cy="457.2" r="1.6"/><circle cx="77" cy="458" r="1.6"/><circle cx="78" cy="460.1" r="1.6"/>
<circle cx="115" cy="443.1" r="1.6"/><circle cx="118" cy="451.6" r="1.6"/><circle cx="114" cy="453.8" r="1.6"/><circle cx="119" cy="455.9" r="1.6"/><circle cx="116" cy="458" r="1.6"/><circle cx="117" cy="462.3" r="1.6"/>
<circle cx="153" cy="453.8" r="1.6"/><circle cx="156" cy="455" r="1.6"/><circle cx="152" cy="455.9" r="1.6"/><circle cx="157" cy="457.2" r="1.6"/><circle cx="154" cy="458" r="1.6"/><circle cx="155" cy="458.9" r="1.6"/>
<circle cx="191" cy="451.6" r="1.6"/><circle cx="194" cy="455.9" r="1.6"/><circle cx="190" cy="458" r="1.6"/><circle cx="195" cy="458.9" r="1.6"/><circle cx="192" cy="462.3" r="1.6"/><circle cx="193" cy="464.4" r="1.6"/></g>
<path class="ax" d="M66,411V408H77.5V411M103,408V405H116.5V408M142.5,412V409H155V412M181,395V392H193V395"/>
<text class="m" x="71.5" y="410.5">****</text><text class="m" x="110" y="407.5">***</text><text class="m" x="148.5" y="411.5">***</text><text class="m" x="187" y="394.5">**</text>
<text class="m h" x="66" y="488">AT8</text><text class="m h" x="106" y="488">AT180</text><text class="m h" x="145" y="488">AT270</text><text class="m h" x="186" y="488">pS396</text>
<text class="m" transform="translate(34,432) rotate(-90)">Relative intensity ratio</text>

<!-- C right chart -->
<path class="ax" d="M237,390V475H381M234,390h3M234,411.25h3M234,432.5h3M234,453.75h3M234,475h3"/>
<text class="e" x="233" y="393.5">2.0</text><text class="e" x="233" y="414.75">1.5</text><text class="e" x="233" y="436">1.0</text><text class="e" x="233" y="457.25">0.5</text><text class="e" x="233" y="478.5">0.0</text>
<rect class="bar" x="245" y="432.5" width="8" height="42.5"/><rect class="bar" x="282" y="432.5" width="8" height="42.5"/><rect class="bar" x="318" y="432.5" width="9" height="42.5"/><rect class="bar" x="355" y="432.5" width="8" height="42.5"/>
<rect class="bar" x="257" y="452.5" width="8" height="22.5"/><rect class="bar" x="293" y="447.4" width="9" height="27.6"/><rect class="bar" x="332" y="452.9" width="8" height="22.1"/><rect class="bar" x="368" y="458" width="9" height="17"/>
<path class="er" d="M246,428.25h6M249,428.25V436.75M246,436.75h6M283,429.1h6M286,429.1V435.9M283,435.9h6M319.5,429.1h6M322.5,429.1V435.9M319.5,435.9h6M356,430h6M359,430V435M356,435h6"/>
<path class="eb" d="M258,449.5h6M261,449.5V455.5M258,455.5h6M294.5,445.3h6M297.5,445.3V449.5M294.5,449.5h6M333,447.8h6M336,447.8V458M333,458h6M369.5,455.5h6M372.5,455.5V460.5M369.5,460.5h6"/>
<g class="r">
<circle cx="247" cy="411.25" r="1.6"/><circle cx="251" cy="428.25" r="1.6"/><circle cx="246" cy="430.4" r="1.6"/><circle cx="252" cy="432.5" r="1.6"/><circle cx="249" cy="441" r="1.6"/><circle cx="248" cy="445.25" r="1.6"/>
<circle cx="284" cy="413.4" r="1.6"/><circle cx="288" cy="424" r="1.6"/><circle cx="283" cy="432.5" r="1.6"/><circle cx="289" cy="436.75" r="1.6"/><circle cx="286" cy="438.9" r="1.6"/><circle cx="285" cy="441" r="1.6"/>
<circle cx="320" cy="421.9" r="1.6"/><circle cx="324" cy="428.25" r="1.6"/><circle cx="319" cy="432.5" r="1.6"/><circle cx="325" cy="436.75" r="1.6"/><circle cx="322" cy="445.25" r="1.6"/>
<circle cx="357" cy="424" r="1.6"/><circle cx="361" cy="430.4" r="1.6"/><circle cx="356" cy="432.5" r="1.6"/><circle cx="362" cy="434.6" r="1.6"/><circle cx="359" cy="445.25" r="1.6"/></g>
<g class="b">
<circle cx="260" cy="441.9" r="1.6"/><circle cx="263" cy="445.25" r="1.6"/><circle cx="259" cy="451.6" r="1.6"/><circle cx="264" cy="455.9" r="1.6"/><circle cx="261" cy="458" r="1.6"/><circle cx="262" cy="462.25" r="1.6"/>
<circle cx="296" cy="438.9" r="1.6"/><circle cx="299" cy="445.25" r="1.6"/><circle cx="295" cy="447.4" r="1.6"/><circle cx="300" cy="449.5" r="1.6"/><circle cx="297" cy="451.6" r="1.6"/><circle cx="298" cy="453.75" r="1.6"/>
<circle cx="335" cy="432.5" r="1.6"/><circle cx="338" cy="449.5" r="1.6"/><circle cx="334" cy="451.6" r="1.6"/><circle cx="339" cy="455.9" r="1.6"/><circle cx="336" cy="462.25" r="1.6"/><circle cx="337" cy="466.5" r="1.6"/>
<circle cx="371" cy="443.1" r="1.6"/><circle cx="374" cy="455.9" r="1.6"/><circle cx="370" cy="458" r="1.6"/><circle cx="375" cy="460.1" r="1.6"/><circle cx="372" cy="462.25" r="1.6"/><circle cx="373" cy="464.4" r="1.6"/></g>
<path class="ax" d="M249,408V405H261V408M286,408V405H297.5V408M322.5,420V417H336V420M359,421V418H372.5V421"/>
<text class="m" x="255" y="407.5">**</text><text class="m" x="292" y="407.5">**</text><text class="m" x="329" y="419.5">*</text><text class="m" x="366" y="420.5">***</text>
<text class="m h" x="253" y="488">AT8</text><text class="m h" x="288" y="488">AT180</text><text class="m h" x="327" y="488">AT270</text><text class="m h" x="365" y="488">pS396</text>
<text class="m" transform="translate(217,432) rotate(-90)">Relative intensity ratio</text>

<!-- ================= PANEL D ================= -->
<text class="L" x="428" y="305">D</text>
<text class="m" x="485" y="301">6xTg/Veh</text><text class="m" x="567" y="301">6xTg/TA-3</text>
<text class="m" transform="translate(441,346) rotate(-90)">Cortex</text>
<text class="m" transform="translate(441,427) rotate(-90)">Hippocampus</text>
<rect x="444" y="307" width="80" height="79" fill="#bb7340"/>
<rect x="444" y="307" width="80" height="79" fill="url(#pb1)" opacity="0.6"/>
<path d="M450,340L470,315M480,320L500,355" stroke="#a8612f" stroke-width="3" opacity="0.5"/>
<path d="M464,313l6,2M466,326l6,3M478,336l6,-2M477,341l6,-2M452,365l7,-2M452,375l7,-2M460,360l6,-3M470,362l6,-3M490,377l7,-3M490,366l6,-2" stroke="#f4e2cc" stroke-width="1.6"/>
<rect x="507" y="380" width="12" height="2" fill="#fff"/>
<rect x="525" y="307" width="80" height="79" fill="#c98750"/>
<rect x="525" y="307" width="80" height="79" fill="url(#pb2)" opacity="0.7"/>
<path d="M560,322l5,-3M600,380l3,-3" stroke="#f4e2cc" stroke-width="1.5"/>
<rect x="587" y="380" width="12" height="2" fill="#fff"/>
<rect x="444" y="387" width="80" height="81" fill="#c98b60"/>
<path d="M468,387H524V452Q505,435 490,415Q478,400 468,387Z" fill="#8f4621"/>
<rect x="444" y="387" width="80" height="81" fill="url(#pb1)" opacity="0.35"/>
<path d="M444,449Q470,470 524,458" stroke="#f6e6d2" stroke-width="2" fill="none"/>
<path d="M444,460Q470,475 524,466" stroke="#f6e6d2" stroke-width="1.2" fill="none"/>
<path d="M452,400l4,5M458,410l4,5M470,420l4,5M480,430l4,5M490,440l4,3M500,425l3,6M462,440l5,2" stroke="#f3e1cf" stroke-width="1.4"/>
<rect x="507" y="461" width="12" height="2" fill="#fff"/>
<rect x="525" y="387" width="80" height="81" fill="#bf7944"/>
<rect x="525" y="387" width="80" height="81" fill="url(#pb2)" opacity="0.4"/>
<path d="M525,424Q558,405 600,387" stroke="#f8e6cc" stroke-width="7" fill="none"/>
<path d="M525,450Q565,442 605,406" stroke="#f8e6cc" stroke-width="7" fill="none"/>
<rect x="587" y="461" width="12" height="2" fill="#fff"/>

<text class="m h" x="675" y="304">Cortex</text>
<path class="ax" d="M650,309V376H713M647,309h3M647,331h3M647,353.5h3M647,376h3"/>
<text class="e" x="645" y="312.5">1.5</text><text class="e" x="645" y="334.5">1.0</text><text class="e" x="645" y="357">0.5</text><text class="e" x="645" y="379.5">0.0</text>
<rect x="655" y="331" width="20" height="45" fill="#fff" stroke="#444" stroke-width="0.9"/><rect x="684" y="353.5" width="20" height="22.5" fill="#fff" stroke="#444" stroke-width="0.9"/>
<path class="eg" d="M661,329h8M665,329V333M661,333h8M690,349h8M694,349V358M690,358h8"/>
<g fill="#888"><circle cx="663" cy="326.5" r="1.2"/><circle cx="667" cy="328.75" r="1.2"/><circle cx="662" cy="331" r="1.2"/><circle cx="668" cy="333.25" r="1.2"/><circle cx="665" cy="335.5" r="1.2"/><circle cx="694" cy="342.25" r="1.2"/><circle cx="692" cy="351.25" r="1.2"/><circle cx="696" cy="355.75" r="1.2"/><circle cx="693" cy="360.25" r="1.2"/></g>
<path d="M663,319V317H693V319" stroke="#777" stroke-width="0.6" fill="none"/><text class="m" x="678" y="316" style="font-size:6px;fill:#666">**</text>
<text class="m" transform="translate(627,333) rotate(-90)">Relative AT8 intensity</text>
<g class="r"><circle cx="704" cy="297" r="3.3"/></g><g class="b"><circle cx="704" cy="312" r="3.3"/></g>
<text class="h" x="710" y="301">6xTg/Veh</text><text class="h" x="710" y="316">6xTg/TA-3</text>
<text class="m h" x="677" y="401">Hippocampus</text>
<path class="ax" d="M650,408V473H713M647,408h3M647,430h3M647,452h3M647,473h3"/>
<text class="e" x="645" y="411.5">1.5</text><text class="e" x="645" y="433.5">1.0</text><text class="e" x="645" y="455.5">0.5</text><text class="e" x="645" y="476.5">0.0</text>
<rect x="655" y="430" width="20" height="43" fill="#fff" stroke="#444" stroke-width="0.9"/><rect x="684" y="449" width="20" height="24" fill="#fff" stroke="#444" stroke-width="0.9"/>
<path class="eg" d="M661,427.5h8M665,427.5V432.5M661,432.5h8M690,446h8M694,446V452M690,452h8"/>
<g fill="#888"><circle cx="663" cy="425.7" r="1.2"/><circle cx="667" cy="427.85" r="1.2"/><circle cx="662" cy="430" r="1.2"/><circle cx="668" cy="432.15" r="1.2"/><circle cx="665" cy="434.3" r="1.2"/><circle cx="694" cy="442" r="1.2"/><circle cx="692" cy="448" r="1.2"/><circle cx="696" cy="451.5" r="1.2"/><circle cx="693" cy="453.7" r="1.2"/></g>
<path d="M663,416V414H693V416" stroke="#777" stroke-width="0.6" fill="none"/><text class="m" x="678" y="413" style="font-size:6px;fill:#666">***</text>
<text class="m" transform="translate(627,442) rotate(-90)">Relative AT8 intensity</text>

<!-- ================= PANEL E ================= -->
<text class="L" x="21" y="518" style="font-size:18px">E</text>
<text class="m h" x="123" y="511">Cortex</text><text class="m h" x="293" y="511">Hippocampus</text>
<path class="ln" d="M43,514H203M213,514H375" stroke="#777"/>
<text class="m h" x="83" y="525">6xTg/Veh</text><text class="m h" x="165" y="525">6xTg/TA-3</text><text class="m h" x="253" y="525">6xTg/Veh</text><text class="m h" x="335" y="525">6xTgTA-3</text>
<rect x="42" y="526" width="164" height="243" fill="#bdbdbd"/><rect x="213" y="526" width="164" height="243" fill="#bdbdbd"/>
<!-- row 1 Thio S -->
<rect x="43" y="527" width="80" height="79" fill="#000"/><rect x="43" y="527" width="80" height="79" fill="url(#pg)" opacity="0.85"/>
<rect x="80" y="535" width="35" height="45" fill="url(#pg2)" opacity="0.6"/>
<path d="M43,590Q80,575 123,600" stroke="#0a1f0a" stroke-width="6" fill="none" opacity="0.7"/>
<rect x="125" y="527" width="80" height="79" fill="#000"/><rect x="125" y="527" width="80" height="79" fill="url(#pg)" opacity="0.7"/>
<path d="M125,595Q160,580 205,592" stroke="#081a08" stroke-width="5" fill="none"/>
<rect x="214" y="527" width="80" height="79" fill="#000"/><rect x="214" y="527" width="80" height="79" fill="url(#pg)" opacity="0.5"/>
<g fill="#5e5" filter="url(#gl)"><circle cx="225" cy="544" r="1.8"/><circle cx="247" cy="550" r="1.8"/><circle cx="236" cy="568" r="2"/><circle cx="244" cy="572" r="1.6"/><circle cx="256" cy="565" r="1.5"/><circle cx="230" cy="585" r="1.3"/></g>
<rect x="296" y="527" width="80" height="79" fill="#000"/><rect x="296" y="527" width="80" height="79" fill="url(#pg)" opacity="0.45"/>
<path d="M340,527Q360,535 376,545" stroke="#0f3a25" stroke-width="8" fill="none"/>
<!-- row 2 6E10 -->
<rect x="43" y="608" width="80" height="79" fill="#000"/><rect x="43" y="608" width="80" height="79" fill="url(#pr)" opacity="0.6"/>
<ellipse cx="94" cy="645" rx="22" ry="25" fill="url(#pr2)" opacity="0.85"/>
<rect x="125" y="608" width="80" height="79" fill="#000"/><rect x="125" y="608" width="80" height="79" fill="url(#pr)" opacity="0.6"/>
<ellipse cx="165" cy="645" rx="32" ry="16" fill="url(#pr2)" opacity="0.6"/>
<rect x="214" y="608" width="80" height="79" fill="#000"/><rect x="214" y="608" width="80" height="79" fill="url(#pr)" opacity="0.3"/>
<g fill="#f22" filter="url(#gl)"><circle cx="229" cy="626" r="2"/><circle cx="260" cy="637" r="2.3"/><circle cx="232" cy="655" r="2.6"/><circle cx="247" cy="654" r="2"/><circle cx="254" cy="646" r="1.8"/><circle cx="271" cy="632" r="1.5"/><circle cx="229" cy="664" r="1.8"/></g>
<rect x="296" y="608" width="80" height="79" fill="#000"/><rect x="296" y="608" width="80" height="79" fill="url(#pr)" opacity="0.3"/>
<path d="M296,680Q340,660 376,615" stroke="#3a0808" stroke-width="3" fill="none"/>
<!-- row 3 Merge -->
<rect x="43" y="689" width="80" height="79" fill="#0c0c3a"/>
<path d="M43,752Q80,735 123,760" stroke="#17406a" stroke-width="12" fill="none" opacity="0.8"/>
<rect x="43" y="689" width="80" height="79" fill="url(#pm)" opacity="0.65"/>
<ellipse cx="94" cy="725" rx="22" ry="25" fill="url(#pm2)" opacity="0.8"/>
<rect x="125" y="689" width="80" height="79" fill="#0c0c3a"/>
<path d="M125,752Q160,738 205,748" stroke="#173a6a" stroke-width="12" fill="none" opacity="0.8"/>
<rect x="125" y="689" width="80" height="79" fill="url(#pm)" opacity="0.65"/>
<ellipse cx="165" cy="722" rx="32" ry="15" fill="url(#pm2)" opacity="0.55"/>
<rect x="214" y="689" width="80" height="79" fill="#02020c"/>
<path d="M214,716Q252,698 294,738" stroke="#2424f0" stroke-width="8" fill="none"/>
<path d="M214,734Q252,718 294,746" stroke="#2424f0" stroke-width="7" fill="none"/>
<rect x="214" y="689" width="80" height="79" fill="url(#pm)" opacity="0.35"/>
<g fill="#fd8" filter="url(#gl)"><circle cx="229" cy="707" r="1.8"/><circle cx="252" cy="727" r="2.2"/><circle cx="231" cy="736" r="2.5"/><circle cx="244" cy="737" r="1.8"/><circle cx="260" cy="715" r="1.5"/></g>
<rect x="296" y="689" width="80" height="79" fill="#02020c"/>
<path d="M335,689Q360,692 376,705L376,689Z" fill="#164a40"/>
<path d="M296,731C320,726 340,738 376,716" stroke="#2424f0" stroke-width="6" fill="none"/>
<path d="M296,746Q335,752 376,728" stroke="#2424f0" stroke-width="5" fill="none"/>
<rect x="296" y="689" width="80" height="79" fill="url(#pm)" opacity="0.3"/>
<g fill="#fff"><rect x="102" y="598" width="13" height="2"/><rect x="184" y="598" width="13" height="2"/><rect x="273" y="598" width="13" height="2"/><rect x="355" y="598" width="13" height="2"/>
<rect x="102" y="679" width="13" height="2"/><rect x="184" y="679" width="13" height="2"/><rect x="273" y="679" width="13" height="2"/><rect x="355" y="679" width="13" height="2"/>
<rect x="102" y="760" width="13" height="2"/><rect x="184" y="760" width="13" height="2"/><rect x="273" y="760" width="13" height="2"/><rect x="355" y="760" width="13" height="2"/></g>
<text x="45" y="538" style="fill:#3c3;font-size:10px">Thio S</text>
<text x="45" y="619" style="fill:#e84a35;font-size:10px">6E10</text>
<text x="45" y="700" style="fill:#fff;font-size:10px">Merge</text>

<!-- E charts -->
<text class="m h" x="459" y="514">Cortex</text><text class="m h" x="577" y="514">Hippocampus</text>
<path class="ln" d="M425,517H492M543,517H610" stroke="#333"/>
<g class="r"><circle cx="617" cy="523" r="3.3"/></g><g class="b"><circle cx="617" cy="538" r="3.3"/></g>
<text class="h" x="625" y="527">6xTg/Veh</text><text class="h" x="625" y="542">6xTg/TA-3</text>

<!-- row1 cortex -->
<path class="ax" d="M430,532V598H492M427,532h3M427,554h3M427,576h3M427,598h3"/>
<text class="e" x="426" y="535.5">1.5</text><text class="e" x="426" y="557.5">1.0</text><text class="e" x="426" y="579.5">0.5</text><text class="e" x="426" y="601.5">0.0</text>
<rect class="bar" x="434" y="554" width="21" height="44"/><rect class="bar" x="466" y="572.5" width="21" height="25.5"/>
<path class="er" d="M439.5,548.3h10M444.5,548.3V559.7M439.5,559.7h10"/><path class="eb" d="M471.5,569.9h10M476.5,569.9V575.1M471.5,575.1h10"/>
<g class="r"><circle cx="443" cy="536.4" r="1.7"/><circle cx="446" cy="545.2" r="1.7"/><circle cx="441" cy="547.4" r="1.7"/><circle cx="447" cy="558.4" r="1.7"/><circle cx="444" cy="565" r="1.7"/><circle cx="445" cy="569.4" r="1.7"/></g>
<g class="b"><circle cx="478" cy="565" r="1.7"/><circle cx="475" cy="567.2" r="1.7"/><circle cx="479" cy="570.7" r="1.7"/><circle cx="474" cy="576" r="1.7"/><circle cx="477" cy="576.9" r="1.7"/></g>
<path class="ax" d="M444,531V528H477V531"/><text class="m" x="460.5" y="530.5">*</text>
<text class="m" transform="translate(396,565) rotate(-90)">Relative Thio S</text><text class="m" transform="translate(408,565) rotate(-90)">fluorescence</text>
<!-- row1 hippo -->
<path class="ax" d="M540,532V598H618M537,532h3M537,554h3M537,576h3M537,598h3"/>
<text class="e" x="536" y="535.5">1.5</text><text class="e" x="536" y="557.5">1.0</text><text class="e" x="536" y="579.5">0.5</text><text class="e" x="536" y="601.5">0.0</text>
<rect class="bar" x="554" y="554" width="22" height="44"/><rect class="bar" x="587" y="572.9" width="21" height="25.1"/>
<path class="er" d="M560,548.3h10M565,548.3V559.7M560,559.7h10"/><path class="eb" d="M592.5,570.3h10M597.5,570.3V575.5M592.5,575.5h10"/>
<g class="r"><circle cx="564" cy="536.4" r="1.7"/><circle cx="567" cy="545.2" r="1.7"/><circle cx="562" cy="547.4" r="1.7"/><circle cx="568" cy="558.4" r="1.7"/><circle cx="565" cy="565" r="1.7"/><circle cx="566" cy="569.4" r="1.7"/></g>
<g class="b"><circle cx="599" cy="565" r="1.7"/><circle cx="596" cy="567.2" r="1.7"/><circle cx="600" cy="570.7" r="1.7"/><circle cx="595" cy="576" r="1.7"/><circle cx="598" cy="576.9" r="1.7"/></g>
<path class="ax" d="M564,533V530H598V533"/><text class="m" x="581" y="532.5">*</text>
<text class="m" transform="translate(512,565) rotate(-90)">Relative Thio S</text><text class="m" transform="translate(524,565) rotate(-90)">fluorescence</text>

<!-- row2 cortex -->
<path class="ax" d="M430,612V677H492M427,612h3M427,633.7h3M427,655.3h3M427,677h3"/>
<text class="e" x="426" y="615.5">1.5</text><text class="e" x="426" y="637.2">1.0</text><text class="e" x="426" y="658.8">0.5</text><text class="e" x="426" y="680.5">0.0</text>
<rect class="bar" x="434" y="633.7" width="21" height="43.3"/><rect class="bar" x="466" y="650.6" width="21" height="26.4"/>
<path class="er" d="M439.5,628.5h10M444.5,628.5V638.9M439.5,638.9h10"/><path class="eb" d="M471.5,648.4h10M476.5,648.4V652.8M471.5,652.8h10"/>
<g class="r"><circle cx="443" cy="618.5" r="1.7"/><circle cx="447" cy="620.7" r="1.7"/><circle cx="441" cy="629.4" r="1.7"/><circle cx="446" cy="638" r="1.7"/><circle cx="444" cy="644.5" r="1.7"/><circle cx="445" cy="648.9" r="1.7"/></g>
<g class="b"><circle cx="478" cy="644.5" r="1.7"/><circle cx="475" cy="646.7" r="1.7"/><circle cx="479" cy="650.2" r="1.7"/><circle cx="474" cy="653.2" r="1.7"/><circle cx="477" cy="655.4" r="1.7"/></g>
<path class="ax" d="M444,611V608H477V611"/><text class="m" x="460.5" y="610.5">**</text>
<text class="m" transform="translate(396,645) rotate(-90)">Relative 6E10</text><text class="m" transform="translate(408,645) rotate(-90)">fluorescence</text>
<!-- row2 hippo -->
<path class="ax" d="M540,611V677H618M537,611h3M537,627.5h3M537,644h3M537,660.5h3M537,677h3"/>
<text class="e" x="536" y="614.5">2.0</text><text class="e" x="536" y="631">1.5</text><text class="e" x="536" y="647.5">1.0</text><text class="e" x="536" y="664">0.5</text><text class="e" x="536" y="680.5">0.0</text>
<rect class="bar" x="554" y="644" width="22" height="33"/><rect class="bar" x="587" y="665.1" width="21" height="11.9"/>
<path class="er" d="M560,636.7h10M565,636.7V651.3M560,651.3h10"/><path class="eb" d="M592.5,662.8h10M597.5,662.8V667.4M592.5,667.4h10"/>
<g class="r"><circle cx="564" cy="624.2" r="1.7"/><circle cx="567" cy="627.5" r="1.7"/><circle cx="562" cy="644" r="1.7"/><circle cx="568" cy="650.6" r="1.7"/><circle cx="565" cy="658.9" r="1.7"/><circle cx="566" cy="668.75" r="1.7"/></g>
<g class="b"><circle cx="599" cy="655.5" r="1.7"/><circle cx="596" cy="662.2" r="1.7"/><circle cx="600" cy="664.5" r="1.7"/><circle cx="595" cy="667.1" r="1.7"/><circle cx="598" cy="668.75" r="1.7"/></g>
<path class="ax" d="M564,620V617H598V620"/><text class="m" x="581" y="619.5">*</text>
<text class="m" transform="translate(512,645) rotate(-90)">Relative 6E10</text><text class="m" transform="translate(524,645) rotate(-90)">fluorescence</text>

<!-- row3 cortex -->
<path class="ax" d="M430,693V764H492M427,693h3M427,716.7h3M427,740.3h3M427,764h3"/>
<text class="e" x="426" y="696.5">1.5</text><text class="e" x="426" y="720.2">1.0</text><text class="e" x="426" y="743.8">0.5</text><text class="e" x="426" y="767.5">0.0</text>
<rect class="bar" x="434" y="716.7" width="21" height="47.3"/><rect class="bar" x="466" y="743.7" width="21" height="20.3"/>
<path class="er" d="M439.5,712h10M444.5,712V721.4M439.5,721.4h10"/><path class="eb" d="M471.5,741.8h10M476.5,741.8V745.6M471.5,745.6h10"/>
<g class="r"><circle cx="443" cy="702.5" r="1.7"/><circle cx="447" cy="707.2" r="1.7"/><circle cx="441" cy="714.3" r="1.7"/><circle cx="446" cy="719.1" r="1.7"/><circle cx="444" cy="728.5" r="1.7"/><circle cx="445" cy="730.9" r="1.7"/></g>
<g class="b"><circle cx="478" cy="734.7" r="1.7"/><circle cx="475" cy="740.4" r="1.7"/><circle cx="479" cy="742.7" r="1.7"/><circle cx="474" cy="745.1" r="1.7"/><circle cx="477" cy="749.8" r="1.7"/></g>
<path class="ax" d="M444,696V693H477V696"/><text class="m" x="460.5" y="695.5">***</text>
<text class="m" transform="translate(396,731) rotate(-90)">Relative colocalized</text><text class="m" transform="translate(408,731) rotate(-90)">fluorescence</text>
<!-- row3 hippo -->
<path class="ax" d="M540,698V763H618M537,698h3M537,714.25h3M537,730.5h3M537,746.75h3M537,763h3"/>
<text class="e" x="536" y="701.5">2.0</text><text class="e" x="536" y="717.75">1.5</text><text class="e" x="536" y="734">1.0</text><text class="e" x="536" y="750.25">0.5</text><text class="e" x="536" y="766.5">0.0</text>
<rect class="bar" x="554" y="730.5" width="22" height="32.5"/><rect class="bar" x="587" y="754.2" width="21" height="8.8"/>
<path class="er" d="M560,722.2h10M565,722.2V738.9M560,738.9h10"/><path class="eb" d="M592.5,753.2h10M597.5,753.2V755.2M592.5,755.2h10"/>
<g class="r"><circle cx="564" cy="701.2" r="1.7"/><circle cx="567" cy="730.5" r="1.7"/><circle cx="562" cy="733.8" r="1.7"/><circle cx="568" cy="740.3" r="1.7"/><circle cx="565" cy="751.6" r="1.7"/></g>
<g class="b"><circle cx="599" cy="750" r="1.7"/><circle cx="596" cy="753.3" r="1.7"/><circle cx="600" cy="754.9" r="1.7"/><circle cx="595" cy="755.9" r="1.7"/><circle cx="598" cy="756.5" r="1.7"/></g>
<path class="ax" d="M564,696V693H598V696"/><text class="m" x="581" y="695.5">*</text>
<text class="m" transform="translate(512,731) rotate(-90)">Relative colocalized</text><text class="m" transform="translate(524,731) rotate(-90)">fluorescence</text>
</svg>
</body></html>
